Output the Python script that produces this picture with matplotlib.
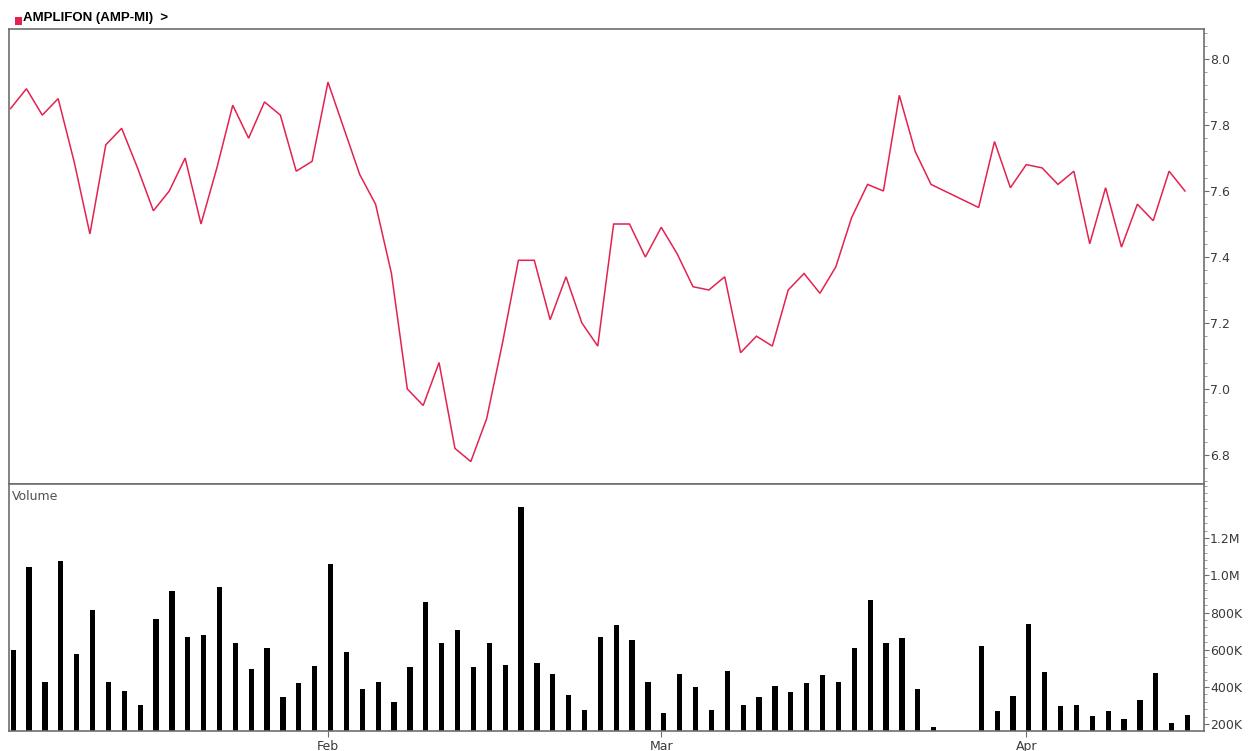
import matplotlib
matplotlib.use("Agg")
import matplotlib.pyplot as plt
from matplotlib.ticker import FixedLocator, MultipleLocator, NullLocator
from matplotlib.patches import Rectangle

plt.rcParams['font.family'] = ['DejaVu Sans']

# ---- data ----
# trading-session index on the x axis (two sessions without data before April)
sessions = list(range(0, 59)) + list(range(61, 75))

price = [7.85, 7.91, 7.83, 7.88, 7.69, 7.47, 7.74, 7.79, 7.67, 7.54,
         7.60, 7.70, 7.50, 7.67, 7.86, 7.76, 7.87, 7.83, 7.66, 7.69,
         7.93, 7.79, 7.65, 7.56, 7.35, 7.00, 6.95, 7.08, 6.82, 6.78,
         6.91, 7.14, 7.39, 7.39, 7.21, 7.34, 7.20, 7.13, 7.50, 7.50,
         7.40, 7.49, 7.41, 7.31, 7.30, 7.34, 7.11, 7.16, 7.13, 7.30,
         7.35, 7.29, 7.37, 7.52, 7.62, 7.60, 7.89, 7.72, 7.62,
         7.55, 7.75, 7.61, 7.68, 7.67, 7.62, 7.66, 7.44, 7.61, 7.43,
         7.56, 7.51, 7.66, 7.60]

volume_k = [598, 1042, 427, 1078, 580, 813, 427, 379, 306, 763,
            915, 666, 677, 938, 634, 496, 610, 344, 422, 513,
            1060, 587, 387, 427, 320, 505, 858, 634, 705, 505,
            639, 517, 1365, 530, 469, 356, 275, 669, 732, 652,
            427, 263, 469, 401, 275, 487, 306, 347, 404, 374,
            422, 463, 427, 610, 867, 639, 664, 387, 185,
            621, 270, 352, 738, 481, 298, 306, 245, 270, 227,
            329, 476, 207, 252]

month_ticks = [20, 41, 64]
month_labels = ['Feb', 'Mar', 'Apr']

price_ticks = [6.8, 7.0, 7.2, 7.4, 7.6, 7.8, 8.0]
price_tick_labels = ['6.8', '7.0', '7.2', '7.4', '7.6', '7.8', '8.0']
vol_ticks = [200000, 400000, 600000, 800000, 1000000, 1200000]
vol_tick_labels = ['200K', '400K', '600K', '800K', '1.0M', '1.2M']

title = 'AMPLIFON (AMP-MI)  >'

# ---- figure ----
W, H = 1254, 751
fig = plt.figure(figsize=(W / 100, H / 100), dpi=100)
fig.patch.set_facecolor('white')

left = 8.5 / W
right = 1204 / W
ax_p = fig.add_axes([left, 1 - 484 / H, right - left, (484 - 29) / H])
ax_v = fig.add_axes([left, 1 - 731 / H, right - left, (731 - 484) / H])

spine_col = '#6e6e6e'
text_col = '#3a3a3a'
line_col = '#e3224f'

xlim = (-0.13, 75.2)

# price panel
ax_p.plot(sessions, price, color=line_col, lw=1.1, solid_joinstyle='miter')
ax_p.set_xlim(*xlim)
ax_p.set_ylim(6.712, 8.091)
ax_p.yaxis.tick_right()
ax_p.yaxis.set_major_locator(FixedLocator(price_ticks))
ax_p.set_yticklabels(price_tick_labels)
ax_p.yaxis.set_minor_locator(MultipleLocator(0.04))
ax_p.xaxis.set_major_locator(NullLocator())

# volume panel
vol = [v * 1000 for v in volume_k]
ax_v.bar(sessions, vol, width=0.33, align='edge', color='black', linewidth=0)
ax_v.set_xlim(*xlim)
ax_v.set_ylim(164000, 1490000)
ax_v.yaxis.tick_right()
ax_v.yaxis.set_major_locator(FixedLocator(vol_ticks))
ax_v.set_yticklabels(vol_tick_labels)
ax_v.yaxis.set_minor_locator(MultipleLocator(40000))
ax_v.xaxis.set_major_locator(FixedLocator(month_ticks))
ax_v.set_xticklabels(month_labels)
ax_v.text(0.003, 0.975, 'Volume', transform=ax_v.transAxes, ha='left', va='top',
          fontsize=9, color='#505050')

for ax in (ax_p, ax_v):
    for sp in ax.spines.values():
        sp.set_color(spine_col)
        sp.set_linewidth(1.2)
    ax.tick_params(axis='y', which='major', direction='out', length=3.5, width=0.8,
                   color=spine_col, labelsize=9, labelcolor=text_col, pad=0.8)
    ax.tick_params(axis='y', which='minor', direction='out', length=2, width=0.6,
                   color='#8a8a8a')
    ax.tick_params(axis='x', which='major', direction='out', length=4, width=0.8,
                   color=spine_col, labelsize=9, labelcolor=text_col, pad=2.5)

# title with red square
fig.patches.append(Rectangle((15 / W, 1 - 25 / H), 7 / W, 7.5 / H,
                             transform=fig.transFigure, facecolor='#e3224f',
                             edgecolor='none'))
fig.text(23 / W, 1 - 18 / H, title, ha='left', va='center', fontsize=9.5,
         fontweight='bold', color='black', family=['Liberation Sans', 'DejaVu Sans'])

fig.savefig('out.png', dpi=100, facecolor='white')
